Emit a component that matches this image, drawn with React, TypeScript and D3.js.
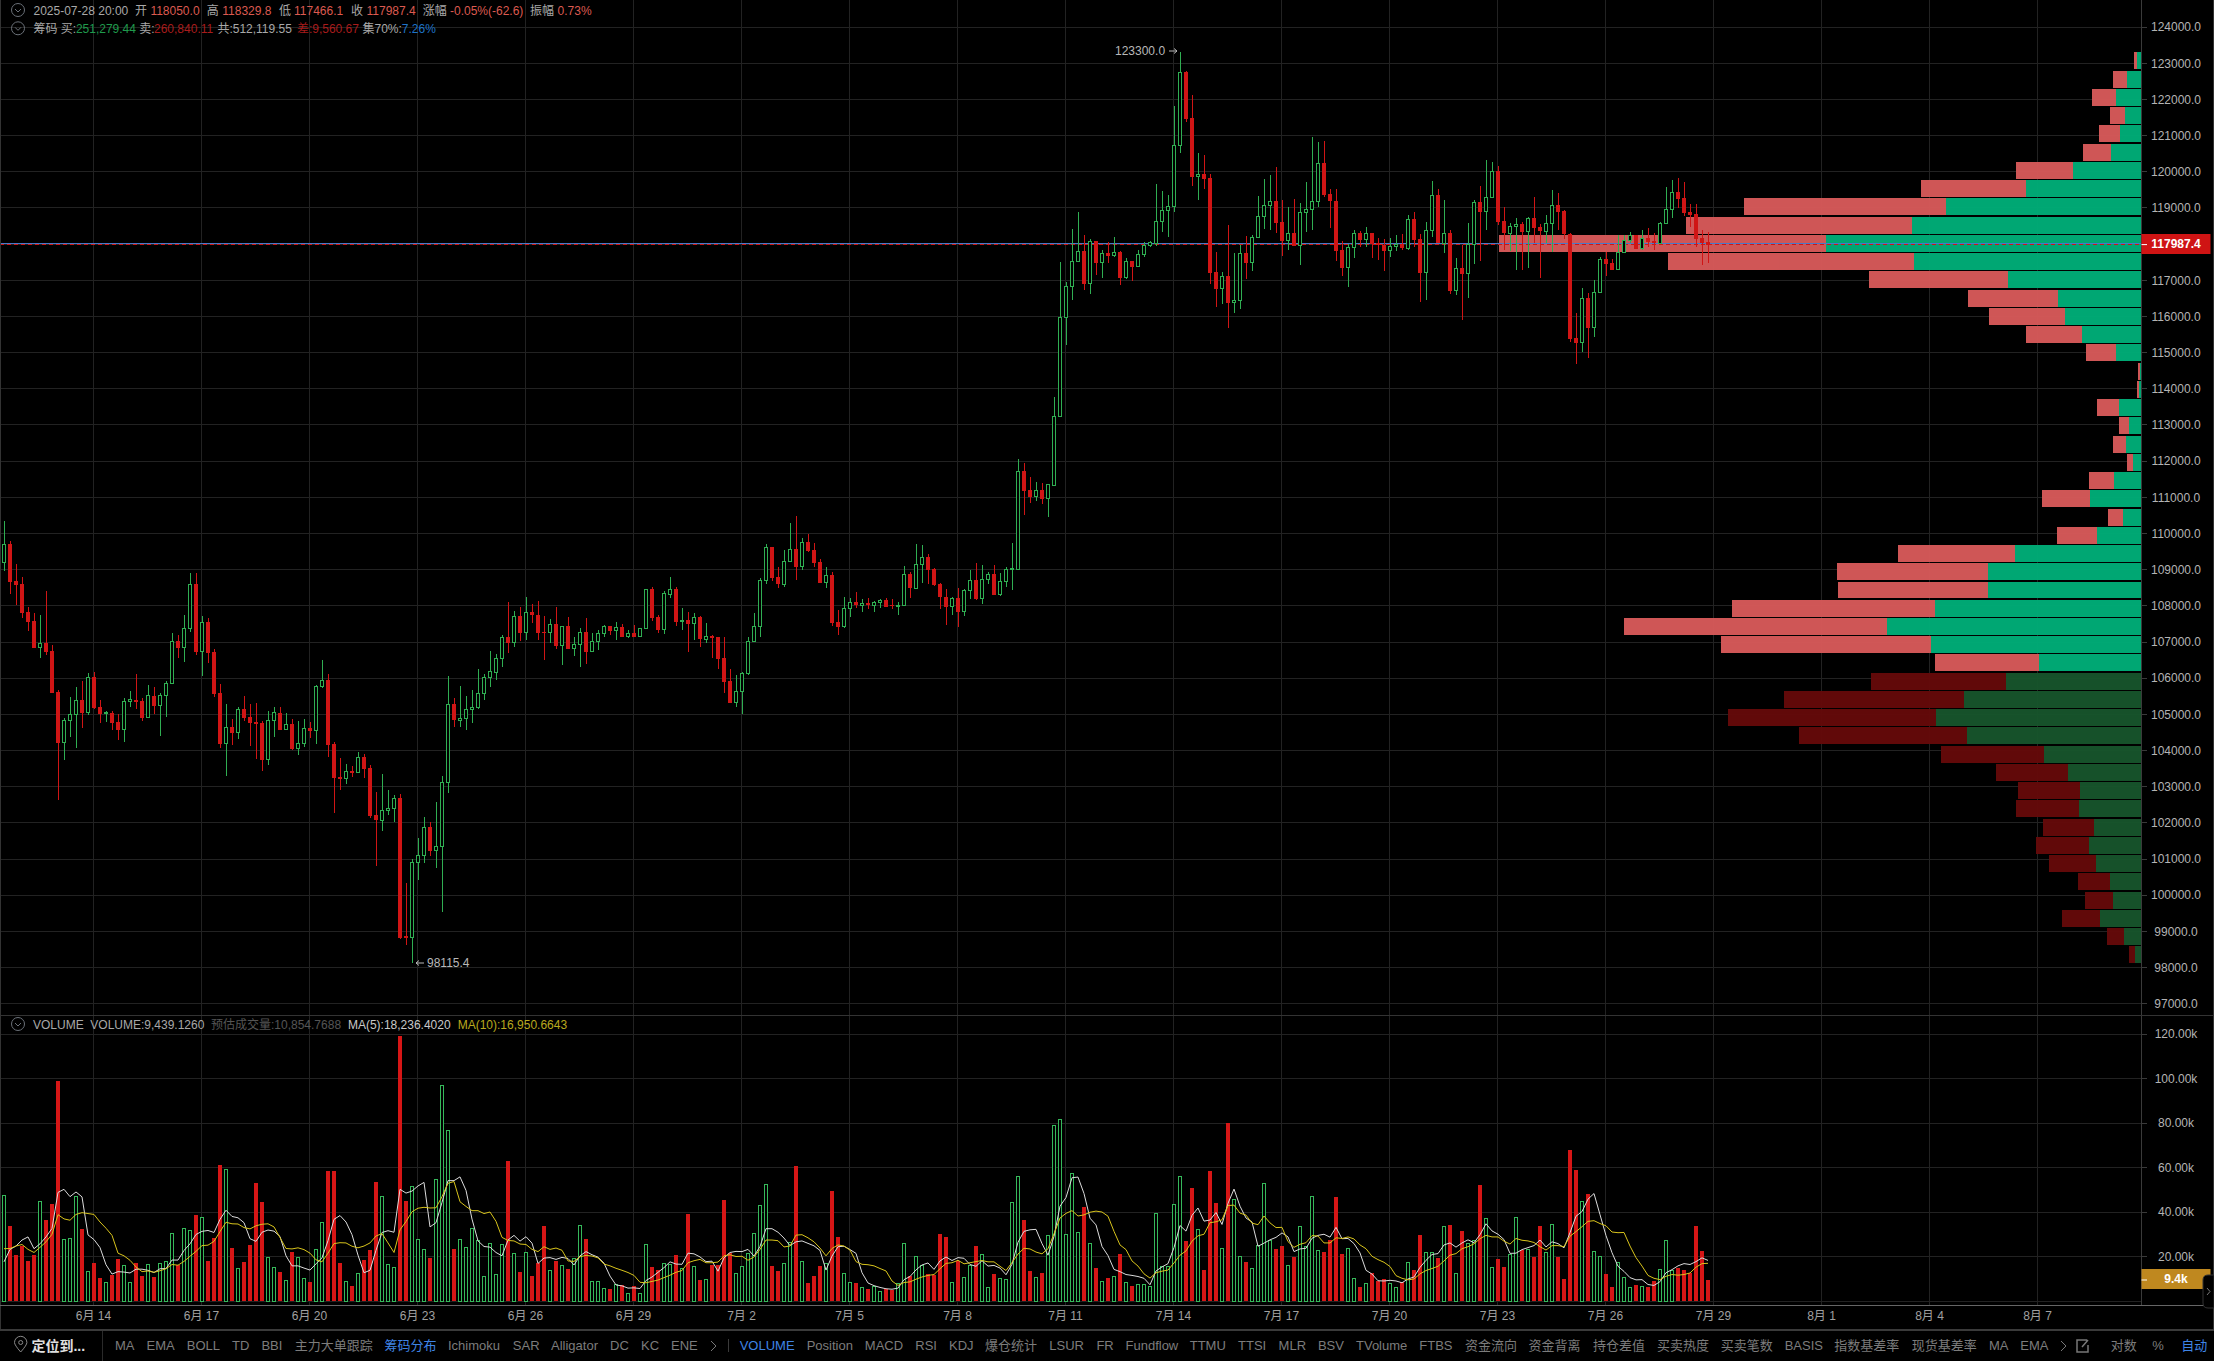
import * as d3 from "d3";

// 4h candles, 2025-06-11 12:00 .. 2025-07-28 20:00
const opens = [
  109200,109700,108680,108590,107820,107570,106840,106960,106740,105610,
  104220,104830,105000,105390,105050,106020,105190,105030,105030,104780,
  104580,105360,105410,105360,104910,105520,105240,105520,105850,107020,
  106840,107380,108590,106730,107540,106710,105580,104200,104640,104500,
  105140,104920,104780,104750,103750,104820,105050,104580,104720,104050,
  104190,104610,104560,105770,105940,104170,103260,103230,103420,103400,
  103810,103510,102210,102070,102340,102400,102680,98870,98830,100910,
  101090,101880,101230,101340,103120,105280,104840,104890,105140,105180,
  105580,106020,106160,106550,107130,106980,107710,107270,107820,107760,
  107290,107270,107490,106900,107430,106820,106930,107270,106730,107020,
  107240,107430,107320,107410,107160,107240,107150,107370,108460,107680,
  107340,108310,108460,107560,107600,107510,107680,107070,107160,107140,
  106550,105910,105320,105640,106130,107020,107430,108700,109620,108790,
  108590,109230,109560,109080,109760,109530,109200,108640,108840,107540,
  107420,107930,108100,108010,108070,108010,108090,108150,108020,107990,
  108010,108870,108480,109140,109340,109010,108590,108240,107980,108210,
  107840,108430,108710,108200,108730,108870,108300,108680,109010,109010,
  111720,111190,111020,111190,110960,111340,113240,115980,116830,117520,
  117800,116910,118080,117490,117750,117680,117770,117070,117530,117380,
  117720,117970,118020,118630,118940,119050,120730,122750,121480,119870,
  119930,119820,117220,116770,117110,116380,116450,117750,117490,118190,
  118770,119070,119180,118600,118090,118300,117970,118880,118960,119180,
  120240,119390,119180,117840,117350,117910,118300,118120,118300,118020,
  117980,117820,117930,118000,117880,118690,118130,117210,118370,119350,
  118020,118300,116710,117330,117180,117980,119160,118900,119290,120010,
  118630,118300,118480,118550,118340,118710,118470,118360,118570,119070,
  118910,118290,115400,115280,116500,115690,116670,117590,117470,117290,
  117770,118100,118240,117870,118160,118090,118020,118580,118950,119430,
  119270,118890,118830,118160,118050,
];
const closes = [
  109700,108670,108580,107810,107560,106840,106960,106730,105600,104220,
  104830,105000,105390,105050,106020,105170,105020,105050,104770,104570,
  105360,105410,105350,104910,105520,105240,105520,105860,107020,106840,
  107380,108590,106730,107540,106700,105570,104190,104640,104490,105140,
  104910,104770,104740,103750,104830,105050,104580,104720,104050,104200,
  104610,104550,105770,105940,104160,103250,103220,103420,103390,103810,
  103500,102200,102070,102340,102400,102680,98820,98820,100910,101100,
  101880,101230,101340,103120,105280,104840,104890,105140,105190,105580,
  106020,106190,106550,107130,106980,107710,107260,107820,107760,107260,
  107260,107490,106900,107430,106820,106930,107270,106730,107020,107240,
  107430,107310,107400,107150,107230,107150,107370,108460,107670,107340,
  108330,108460,107560,107600,107510,107680,107070,107160,107120,106540,
  105900,105320,105640,106130,107020,107430,108700,109620,108780,108590,
  109230,109560,109080,109760,109520,109190,108640,108840,107530,107420,
  107930,108100,108010,108070,108010,108090,108150,107980,107990,108020,
  108870,108480,109150,109340,109000,108580,108240,107980,108210,107840,
  108430,108710,108190,108730,108870,108300,108680,109010,109040,111720,
  111180,111020,111190,110960,111360,113240,115980,116830,117530,117800,
  116910,118080,117490,117750,117680,117770,117070,117530,117380,117720,
  117970,118050,118630,118940,119050,120730,122750,121470,119870,119930,
  119810,117210,116770,117110,116380,116450,117750,117490,118190,118770,
  119070,119180,118590,118090,118300,117960,118880,118960,119180,120240,
  119360,119180,117820,117350,117910,118300,118120,118300,118010,117970,
  117820,117940,118000,117880,118690,118120,117210,118380,119350,118040,
  118300,116710,117330,117180,117980,119160,118900,119290,120010,118610,
  118300,118480,118550,118340,118710,118460,118360,118570,119070,118900,
  118280,115390,115280,116500,115690,116670,117580,117450,117290,117770,
  118100,118240,117870,118160,118050,118020,118580,118960,119430,119250,
  118860,118810,118140,118040,117987.4,
];
const highs = [
  110350,109790,109170,108790,107960,107810,107760,108410,106930,105670,
  104890,105470,105760,105920,106140,106170,105390,105090,105080,105020,
  105440,105640,106110,105440,105810,105760,105580,105930,107260,107200,
  107760,108900,108910,107730,107660,106800,105830,105290,104870,105210,
  105510,105290,105300,104820,105100,105190,105190,105030,104870,104810,
  104870,104780,105810,106490,106110,104230,103800,103640,103560,103950,
  103900,103600,102840,103360,102910,102770,102800,100350,100990,101570,
  102150,102030,102590,103290,106050,105460,105780,105520,105670,106250,
  106110,106750,106670,107190,108110,107870,107980,108250,108050,108140,
  107730,107640,107980,107450,107690,107140,107380,107660,107240,107320,
  107460,107450,107540,107500,107320,107460,107380,108460,108520,107750,
  108410,108800,108520,107930,107820,107790,107720,107520,107180,107150,
  107150,106250,106080,106160,107150,107810,108760,109700,109620,109080,
  109530,110280,110490,109870,109980,109750,109290,109080,108940,107890,
  108240,108220,108370,108180,108210,108140,108200,108220,108190,108100,
  109090,108940,109700,109670,109420,109050,108620,108470,108250,108480,
  108470,108980,109190,109120,108940,109120,108910,109080,109750,112050,
  111950,111560,111420,111390,111380,113770,117520,116960,118410,118900,
  118240,118130,118100,117840,118050,118190,117800,117610,117540,117840,
  118050,118100,119670,119470,119350,121820,123300,122790,122130,120520,
  120460,119930,117770,117240,118520,117750,117980,118230,118250,119320,
  119800,119900,120120,119220,119040,119240,119130,119720,120960,120820,
  120860,119530,119530,118080,118000,118390,118350,118470,118320,118160,
  118130,118170,118240,118280,118800,118880,118280,118600,119740,119520,
  119210,118390,117610,117980,118580,119220,119620,120330,120280,120170,
  119020,118590,118710,118620,118750,119290,118560,118810,119500,119410,
  118940,118300,116110,116780,116660,117010,117650,117770,117590,118250,
  118250,118330,118240,118390,118440,118300,118620,119570,119780,119830,
  119710,119110,119110,118390,118329.8,
];
const lows = [
  108970,108340,108020,107670,107310,106840,106550,106640,105600,102620,
  103750,104370,104070,104610,104970,105140,104750,104780,104570,104300,
  104240,105210,105150,104820,104910,105010,104410,104930,105830,106550,
  106460,107270,106650,106070,106430,105470,104070,103300,104150,104330,
  104820,104120,103760,103440,103600,104370,104580,104580,104020,103880,
  104110,104350,104190,105720,103820,102260,102920,103080,103280,103400,
  103230,102140,100800,101780,102220,102030,98790,98620,98115.4,100430,
  100890,101080,100760,99540,102830,104660,104660,104580,104760,105140,
  105400,105760,105960,106300,106700,106870,107030,107050,107530,107060,
  106500,106960,106810,106360,106820,106620,106320,106380,106730,106780,
  107140,107200,107060,107150,107110,107130,107150,107370,107590,107250,
  107220,108210,107450,107330,106710,107060,106870,106980,106560,106240,
  105580,105320,105190,105010,106100,107020,107150,108610,108700,108500,
  108530,109220,108720,108980,109500,109060,108640,108480,107450,107200,
  107400,107700,107950,107830,107910,107820,107950,107980,107900,107750,
  108010,108230,108480,108620,108610,108540,107910,107480,107740,107420,
  107710,108180,108160,108060,108590,108300,108280,108530,108440,109010,
  110520,110850,110910,110820,110450,111300,113240,115210,116460,117520,
  116740,116630,117150,117070,117490,117650,116870,117030,116990,117360,
  117650,117930,117960,118340,118210,118880,120530,121370,119620,119220,
  119530,116890,116250,116340,115690,116090,116210,117050,117270,118160,
  118420,118390,118300,117680,117840,117940,117420,118330,118390,119020,
  119310,118440,117540,117130,116810,117610,117930,117920,117620,117560,
  117260,117640,117820,117840,117840,117930,116390,116460,118210,118020,
  117750,116620,116590,115890,116500,117450,117540,118390,119270,118530,
  117840,117820,117290,117290,117330,118020,117070,118020,117790,118390,
  118130,115300,114690,115030,114860,115440,116660,117130,117290,117290,
  117750,118020,117870,117840,117930,117840,118020,118560,118710,118990,
  118780,118480,117930,117410,117466.1,
];

// volume per candle, in thousands
const volumes = [
  47.4,33.6,20.6,24.7,17.9,20.6,44.7,36.3,43.5,98.7,27.7,28.1,47.1,32.3,13.3,17.0,10.3,8.4,11.5,18.8,
  16.0,8.4,17.0,11.2,16.4,10.8,16.9,17.8,30.3,16.1,32.6,31.8,38.6,37.5,17.9,28.3,61.0,59.1,23.8,14.7,
  17.5,25.1,52.9,44.4,19.6,15.1,13.0,9.3,22.0,19.6,10.2,8.5,23.2,35.3,58.3,58.3,17.0,8.8,6.7,12.4,
  18.4,22.9,53.4,46.9,16.4,15.1,119.3,44.9,51.4,27.7,23.2,19.3,54.6,96.7,76.5,23.3,27.7,24.1,32.6,27.2,
  11.1,25.9,12.0,25.4,62.8,21.4,13.0,21.8,11.2,16.9,33.6,13.8,17.9,16.0,14.4,19.1,33.9,27.7,8.8,8.8,
  5.7,5.2,7.5,7.0,3.4,6.6,3.4,25.4,15.2,13.9,16.9,16.4,20.5,14.7,39.0,15.5,9.4,9.7,16.1,16.4,
  45.3,21.4,12.4,15.5,21.4,30.3,42.9,52.3,15.7,13.5,16.9,26.3,60.5,17.8,8.1,11.2,15.7,16.9,49.3,28.7,
  12.4,8.4,8.1,6.1,5.4,6.6,4.3,5.2,4.8,7.9,25.9,11.2,20.0,16.1,12.1,11.7,30.3,28.7,8.4,18.2,
  10.6,16.0,24.7,20.9,6.1,12.1,10.2,9.7,44.3,55.9,36.6,13.5,10.6,12.6,29.5,78.8,81.5,29.9,57.3,30.8,
  42.2,25.9,14.8,8.8,10.3,11.1,21.1,8.4,6.7,7.5,7.5,6.6,39.3,15.4,15.4,43.4,55.9,26.9,50.7,32.1,
  13.9,58.3,44.0,23.6,79.8,45.7,20.0,17.5,14.7,25.0,52.8,27.4,23.3,24.7,16.0,19.7,33.5,24.7,46.9,22.7,
  22.0,27.4,46.6,21.1,23.6,10.2,6.3,7.9,12.4,8.8,9.7,7.9,6.1,8.7,17.3,13.9,29.6,21.8,21.8,19.3,
  33.5,34.1,12.4,31.4,25.9,27.2,52.0,37.1,15.1,18.8,15.2,20.9,37.5,22.9,23.3,19.7,33.6,21.8,34.4,19.7,
  9.9,67.7,58.8,44.7,48.0,22.3,20.0,12.1,6.3,17.3,10.6,6.1,7.2,6.6,6.3,9.0,14.2,27.2,13.9,14.8,
  13.9,12.4,33.6,22.4,9.44,
];
const ma5 = [
  17.6,23.2,24.7,27.4,28.8,23.5,25.7,28.8,32.6,48.8,50.2,46.9,49.0,46.8,29.7,27.6,24.0,16.3,12.1,13.2,
  13.0,12.6,14.3,14.3,13.8,12.8,14.5,14.6,18.4,18.4,22.7,25.7,29.9,31.3,31.7,30.8,36.7,40.8,38.0,37.4,
  35.2,28.0,26.8,30.9,31.9,31.4,29.0,20.3,15.8,15.8,14.8,13.9,16.7,19.4,27.1,36.7,38.4,35.5,29.8,20.6,
  12.7,13.8,22.8,30.8,31.6,30.9,50.2,48.5,49.4,51.7,53.3,33.3,35.2,44.3,54.1,54.1,55.8,49.7,36.8,27.0,
  24.5,24.2,21.8,20.3,27.4,29.5,26.9,28.9,26.0,16.9,19.3,19.5,18.7,19.6,19.1,16.2,20.3,22.2,20.8,19.7,
  17.0,11.2,7.2,6.8,5.8,5.9,5.6,9.2,10.8,12.9,15.0,17.6,16.6,16.5,21.5,21.2,19.8,17.7,17.9,13.4,
  19.4,21.8,22.3,22.2,23.2,20.2,24.5,32.5,32.5,30.9,28.3,24.9,26.6,27.0,25.9,24.8,22.7,13.9,20.2,24.4,
  24.6,23.1,21.4,12.7,8.1,6.9,6.1,5.5,5.3,5.8,9.6,11.0,14.0,16.2,17.1,14.2,18.0,19.8,18.2,19.5,
  19.2,16.4,15.6,18.1,15.7,16.0,14.8,11.8,16.5,26.4,31.3,32.0,32.2,25.8,20.6,29.0,42.6,46.5,55.4,55.7,
  48.3,37.2,34.2,24.5,20.4,14.2,13.2,11.9,11.5,11.0,10.2,7.3,13.5,15.3,16.8,24.0,33.9,31.4,38.5,41.8,
  35.9,36.4,39.8,34.4,43.9,50.3,42.6,37.3,35.5,24.6,26.0,27.5,28.6,30.6,28.8,22.2,23.4,23.7,28.2,29.5,
  30.0,28.7,33.1,28.0,28.1,25.8,21.6,13.8,12.1,9.1,9.0,9.3,9.0,8.2,9.9,10.8,15.1,18.3,20.9,21.3,
  25.2,26.1,24.2,26.1,27.5,26.2,29.8,34.7,31.5,30.0,27.6,21.4,21.5,23.1,24.0,24.9,27.4,24.3,26.6,25.8,
  23.9,30.7,38.1,40.2,45.8,48.3,38.8,29.4,21.7,15.6,13.3,10.5,9.5,9.6,7.4,7.0,8.7,12.7,14.1,15.8,
  16.8,16.4,17.7,19.4,18.24,
];
const ma10 = [
  23.5,23.6,24.7,25.4,23.2,21.8,24.1,26.6,30.0,38.8,36.9,36.3,38.9,39.7,39.3,38.9,35.5,32.7,29.5,21.5,
  20.3,18.3,15.3,13.2,13.5,12.9,13.6,14.5,16.4,16.1,17.8,20.1,22.3,24.9,25.1,26.8,31.2,35.4,34.7,34.6,
  33.0,32.4,33.8,34.5,34.7,33.3,28.5,23.6,23.4,23.9,23.1,21.5,18.5,17.6,21.5,25.8,26.2,26.1,24.6,23.9,
  24.7,26.1,29.2,30.3,26.1,21.8,32.0,35.7,40.1,41.7,42.1,41.8,41.9,46.9,52.9,53.7,44.6,42.5,40.6,40.6,
  39.3,40.0,35.8,28.6,27.2,27.0,25.6,25.4,23.2,22.2,24.4,23.2,23.8,22.8,18.0,17.8,19.9,20.5,20.2,19.4,
  16.6,15.8,14.7,13.8,12.8,11.5,8.4,8.2,8.8,9.4,10.5,11.6,12.9,13.7,17.2,18.1,18.7,17.2,17.2,17.5,
  20.3,20.8,20.0,20.1,18.3,19.8,23.2,27.4,27.4,27.1,24.3,24.7,29.6,29.8,28.4,26.6,23.8,20.3,23.6,25.2,
  24.7,22.9,17.7,16.5,16.3,15.8,14.6,13.5,9.0,7.0,8.3,8.6,9.8,10.8,11.5,11.9,14.5,16.9,17.2,18.3,
  16.7,17.2,17.7,18.2,17.6,17.6,15.6,13.7,17.3,21.1,23.7,23.4,22.0,21.2,23.5,30.2,37.3,39.4,40.6,38.2,
  38.7,39.9,40.4,40.0,38.1,31.3,25.2,23.1,18.0,15.7,12.2,10.3,12.7,13.4,13.9,17.1,20.6,22.5,26.9,29.3,
  30.0,35.2,35.6,36.5,42.9,43.1,39.5,38.6,35.0,34.3,38.2,35.1,33.0,33.1,26.7,24.1,25.5,26.2,29.4,29.2,
  26.1,26.1,28.4,28.1,28.8,27.9,25.2,23.5,20.1,18.6,17.4,15.5,11.4,10.2,9.5,9.9,12.2,13.7,14.6,15.6,
  18.0,20.6,21.3,23.5,24.4,25.7,28.0,29.5,28.8,28.8,26.9,25.6,28.1,27.3,27.0,26.3,24.4,22.9,24.9,24.9,
  24.4,29.1,31.2,33.4,35.8,36.1,34.8,33.8,31.0,30.7,30.8,24.7,19.5,15.7,11.5,10.2,9.6,11.1,11.9,11.6,
  11.9,12.6,15.2,16.8,16.95,
];

// price profile rows, top to bottom: 123300 .. 98115.4
const profileBuy = [
  251,866,1505,958,1277,1778,3967,6749,11354,13361,18377,13224,7752,4879,4423,3466,1459,68,160,1322,
  730,912,502,1596,3010,1094,2599,7387,8938,8938,12038,14820,12266,5974,7889,10328,11970,10169,5700,4286,
  3557,3648,2736,3055,2645,1847,1664,2417,1026,388,
];
const profileSell = [
  182,798,1391,889,1208,1642,3352,6088,11788,13156,19038,14341,8117,5221,4469,3260,1778,137,114,1277,
  593,752,342,1459,2782,866,2326,6794,8801,8732,11810,15322,12221,6042,7866,10488,12107,9781,5974,4195,
  3648,3671,3010,3101,2736,1847,1619,2212,980,342,
];
const brightRows = 34; // rows inside the 70% range

const priceTicks = d3.range(97000, 124001, 1000);
const volumeTicks = [20, 40, 60, 80, 100, 120];
const dateLabels = [
  "6月 14","6月 17","6月 20","6月 23","6月 26","6月 29","7月 2","7月 5","7月 8","7月 11",
  "7月 14","7月 17","7月 20","7月 23","7月 26","7月 29","8月 1","8月 4","8月 7",
];

const WIDTH = 2214;
const HEIGHT = 1361;
const AXIS_X = 2141.5;
const FONT = '"Liberation Sans", "Noto Sans CJK SC", sans-serif';
const RED = "#d01515";
const GREEN = "#2fae52";
const GRID = "#222222";
const AXIS_TEXT = "#b4b4b4";
const LAST_CLOSE = closes[closes.length - 1];
const LAST_VOLUME = volumes[volumes.length - 1];

const x = d3.scaleLinear().domain([0, 284]).range([4, 1708]);
const dateX = d3.scaleLinear().domain([0, dateLabels.length - 1]).range([93.5, 2037.5]);
const y = d3.scaleLinear().domain([123000, 97000]).range([63.3, 1003.7]);
const vy = d3.scaleLinear().domain([0, 120]).range([1301, 1034]);
const rowY = d3
  .scaleBand<number>()
  .domain(d3.range(profileBuy.length))
  .range([y(123300), y(98115.4)])
  .paddingInner(0.07);
const profileW = d3.scaleLinear().domain([0, 30000]).range([0, 515.5]);

const maLine = d3
  .line<number>()
  .x((_, i) => x(i))
  .y((d) => vy(d));

const headerRow1: [number, string, string][] = [
  [33.5, "2025-07-28 20:00", "#a8a8a8"],
  [135, "开", "#a8a8a8"],
  [150.4, "118050.0", "#dc5a50"],
  [206.7, "高", "#a8a8a8"],
  [222.3, "118329.8", "#dc5a50"],
  [279, "低", "#a8a8a8"],
  [294, "117466.1", "#dc5a50"],
  [351, "收", "#a8a8a8"],
  [366.5, "117987.4", "#dc5a50"],
  [422.8, "涨幅", "#a8a8a8"],
  [450, "-0.05%(-62.6)", "#dc5a50"],
  [530, "振幅", "#a8a8a8"],
  [557.6, "0.73%", "#dc5a50"],
];
const headerRow2: [number, string, string][] = [
  [33.5, "筹码", "#a8a8a8"],
  [60.7, "买:", "#a8a8a8"],
  [75.9, "251,279.44", "#1f9a4c"],
  [139.3, "卖:", "#a8a8a8"],
  [154, "260,840.11", "#a81c1c"],
  [217.4, "共:512,119.55", "#a8a8a8"],
  [296.9, "差:9,560.67", "#a81c1c"],
  [362.5, "集70%:", "#a8a8a8"],
  [401.8, "7.26%", "#1f73c8"],
];
const volumeHeader: [number, string, string][] = [
  [33, "VOLUME", "#a8a8a8"],
  [90.3, "VOLUME:9,439.1260", "#a8a8a8"],
  [211, "预估成交量:10,854.7688", "#555555"],
  [347.9, "MA(5):18,236.4020", "#c8c8c8"],
  [457.7, "MA(10):16,950.6643", "#b9a91e"],
];
const toolbar: [number, string, boolean?][] = [
  [115, "MA"],[146.6, "EMA"],[186.8, "BOLL"],[232, "TD"],[261.4, "BBI"],[294.7, "主力大单跟踪"],
  [384.6, "筹码分布", true],[448, "Ichimoku"],[512.8, "SAR"],[551, "Alligator"],[610, "DC"],[641, "KC"],
  [671, "ENE"],[739.7, "VOLUME", true],[806.7, "Position"],[864.8, "MACD"],[915.3, "RSI"],[949, "KDJ"],
  [985, "爆仓统计"],[1049.3, "LSUR"],[1096.4, "FR"],[1125.5, "Fundflow"],[1189.7, "TTMU"],[1238, "TTSI"],
  [1278.6, "MLR"],[1317.9, "BSV"],[1356, "TVolume"],[1419.3, "FTBS"],[1465, "资金流向"],[1528.6, "资金背离"],
  [1592.9, "持仓差值"],[1657, "买卖热度"],[1720.7, "买卖笔数"],[1784.7, "BASIS"],[1834.3, "指数基差率"],
  [1911.7, "现货基差率"],[1989, "MA"],[2020.3, "EMA"],[2110.7, "对数"],[2152.3, "%"],[2181.3, "自动", true],
];

function ChevronCircle({ cx, cy }: { cx: number; cy: number }) {
  return (
    <g fill="none" stroke="#6a7078">
      <circle cx={cx} cy={cy} r={6.5} />
      <path d={`M${cx - 3} ${cy - 1}L${cx} ${cy + 2}L${cx + 3} ${cy - 1}`} />
    </g>
  );
}

function Row({ items, cy, size = 12 }: { items: [number, string, string][]; cy: number; size?: number }) {
  return (
    <>
      {items.map(([tx, label, color]) => (
        <text key={tx} x={tx} y={cy} dy="0.38em" fontSize={size} fill={color}>
          {label}
        </text>
      ))}
    </>
  );
}

export default function App() {
  const lastY = Math.floor(y(LAST_CLOSE));
  return (
    <svg
      width={WIDTH}
      height={HEIGHT}
      viewBox={`0 0 ${WIDTH} ${HEIGHT}`}
      style={{ position: "absolute", left: 0, top: 0, display: "block", background: "#000" }}
      fontFamily={FONT}
    >
      <rect width={WIDTH} height={HEIGHT} fill="#000" />

      {/* grid */}
      <g stroke={GRID} shapeRendering="crispEdges">
        {dateLabels.map((d, i) => (
          <line key={d} x1={dateX(i)} x2={dateX(i)} y1={0} y2={1305} />
        ))}
        {priceTicks.map((t) => (
          <line key={t} x1={0} x2={AXIS_X} y1={y(t)} y2={y(t)} />
        ))}
        {volumeTicks.map((t) => (
          <line key={t} x1={0} x2={AXIS_X} y1={vy(t)} y2={vy(t)} />
        ))}
        <line x1={0} x2={AXIS_X} y1={vy(0)} y2={vy(0)} />
      </g>

      {/* price profile */}
      <g shapeRendering="crispEdges" opacity={0.96}>
        {profileBuy.map((buy, i) => {
          const total = buy + profileSell[i];
          const bright = i < brightRows;
          return (
            <g key={i}>
              <rect
                x={AXIS_X - profileW(total)}
                y={rowY(i)}
                width={profileW(profileSell[i])}
                height={rowY.bandwidth()}
                fill={bright ? "#d85a5a" : "#650a0a"}
              />
              <rect
                x={AXIS_X - profileW(buy)}
                y={rowY(i)}
                width={profileW(buy)}
                height={rowY.bandwidth()}
                fill={bright ? "#00ae78" : "#17552c"}
              />
            </g>
          );
        })}
      </g>

      {/* current price lines */}
      <g shapeRendering="crispEdges">
        <line x1={0} x2={AXIS_X} y1={lastY - 0.5} y2={lastY - 0.5} stroke="#4a78c8" />
        <line x1={0} x2={AXIS_X} y1={lastY + 0.5} y2={lastY + 0.5} stroke="#d01515" strokeDasharray="4 3" />
      </g>

      {/* candles */}
      <g shapeRendering="crispEdges">
        {opens.map((o, i) => {
          const c = closes[i];
          const up = c > o;
          const top = y(Math.max(o, c));
          const h = Math.max(1, y(Math.min(o, c)) - top);
          const cx = x(i);
          return (
            <g key={i}>
              <rect x={cx - 0.5} y={y(highs[i])} width={1} height={y(lows[i]) - y(highs[i])} fill={up ? GREEN : RED} />
              {up ? (
                <rect x={cx - 2} y={top} width={3.5} height={h} fill="#000" stroke={GREEN} />
              ) : (
                <rect x={cx - 2} y={top} width={4} height={h} fill={RED} />
              )}
            </g>
          );
        })}
      </g>

      {/* extreme price labels */}
      <text x={1115} y={50.7} dy="0.35em" fontSize={12} fill="#b8b8b8">
        123300.0
      </text>
      <path d="M1169 51H1177M1174 48.5L1177 51L1174 53.5" fill="none" stroke="#b8b8b8" />
      <text x={427} y={962.7} dy="0.35em" fontSize={12} fill="#b8b8b8">
        98115.4
      </text>
      <path d="M424 963H416M419 960.5L416 963L419 965.5" fill="none" stroke="#b8b8b8" />

      {/* volume */}
      <g shapeRendering="crispEdges">
        {volumes.map((v, i) => {
          const up = closes[i] > opens[i];
          const top = vy(v);
          return up ? (
            <rect key={i} x={x(i) - 2} y={top} width={3.5} height={vy(0) - top} fill="#000" stroke="#35b85a" />
          ) : (
            <rect key={i} x={x(i) - 2} y={top} width={4} height={vy(0) - top} fill="#d61616" />
          );
        })}
      </g>
      <path d={maLine(ma5) ?? ""} fill="none" stroke="#dcdcdc" strokeWidth={1} />
      <path d={maLine(ma10) ?? ""} fill="none" stroke="#d8c41c" strokeWidth={1} />

      {/* frame */}
      <g shapeRendering="crispEdges">
        <line x1={0.5} x2={0.5} y1={0} y2={1329} stroke="#333" />
        <line x1={AXIS_X} x2={AXIS_X} y1={0} y2={1305} stroke="#3a3a3a" />
        <line x1={0} x2={WIDTH} y1={1015.5} y2={1015.5} stroke="#333" />
        <line x1={0} x2={WIDTH} y1={1305} y2={1305} stroke="#666" />
        <line x1={0} x2={WIDTH} y1={1329.5} y2={1329.5} stroke="#3a3a3a" strokeWidth={2} />
        <line x1={2213.5} x2={2213.5} y1={0} y2={1329} stroke="#333" />
      </g>

      {/* price axis */}
      {priceTicks.map((t) => (
        <g key={t}>
          <line x1={AXIS_X} x2={AXIS_X + 5.5} y1={y(t)} y2={y(t)} stroke="#3a3a3a" shapeRendering="crispEdges" />
          <text x={2176} y={y(t)} dy="0.35em" textAnchor="middle" fontSize={12} fill={AXIS_TEXT}>
            {t.toFixed(1)}
          </text>
        </g>
      ))}
      <rect x={AXIS_X} y={234} width={69} height={20} fill="#cf1414" />
      <line x1={AXIS_X} x2={AXIS_X + 5.5} y1={y(LAST_CLOSE)} y2={y(LAST_CLOSE)} stroke="#fff" />
      <text x={2176} y={244} dy="0.35em" textAnchor="middle" fontSize={12} fontWeight="bold" fill="#fff">
        {LAST_CLOSE.toFixed(1)}
      </text>

      {/* volume axis */}
      {volumeTicks.map((t) => (
        <g key={t}>
          <line x1={AXIS_X} x2={AXIS_X + 5.5} y1={vy(t)} y2={vy(t)} stroke="#3a3a3a" shapeRendering="crispEdges" />
          <text x={2176} y={vy(t)} dy="0.35em" textAnchor="middle" fontSize={12} fill={AXIS_TEXT}>
            {t.toFixed(2)}k
          </text>
        </g>
      ))}
      <rect x={AXIS_X} y={1269} width={69} height={20} fill="#bf881f" />
      <line x1={AXIS_X} x2={AXIS_X + 5.5} y1={vy(LAST_VOLUME)} y2={vy(LAST_VOLUME)} stroke="#fff" />
      <text x={2176} y={1279} dy="0.35em" textAnchor="middle" fontSize={12} fontWeight="bold" fill="#fff">
        {LAST_VOLUME.toFixed(1)}k
      </text>
      <path d="M2214 1275H2208Q2203 1275 2203 1280V1303Q2203 1308 2208 1308H2214Z" fill="#000" stroke="#333" />
      <path d="M2207 1288L2210 1291.5L2207 1295" fill="none" stroke="#777" />

      {/* date axis */}
      {dateLabels.map((d, i) => (
        <text key={d} x={dateX(i)} y={1316} dy="0.35em" textAnchor="middle" fontSize={12} fill="#a0a0a0">
          {d}
        </text>
      ))}

      {/* headers */}
      <ChevronCircle cx={18} cy={10} />
      <Row items={headerRow1} cy={10.5} />
      <ChevronCircle cx={18} cy={28.3} />
      <Row items={headerRow2} cy={28.5} />
      <ChevronCircle cx={18} cy={1024} />
      <Row items={volumeHeader} cy={1024} />

      {/* toolbar */}
      <g fill="none" stroke="#888">
        <path d="M20.7 1352Q14.5 1345 14.5 1342.5A6.2 6.2 0 0 1 26.9 1342.5Q26.9 1345 20.7 1352Z" />
        <circle cx={20.7} cy={1342.5} r={2} />
      </g>
      <text x={31.4} y={1346} dy="0.35em" fontSize={14} fontWeight="bold" fill="#e0e0e0">
        定位到...
      </text>
      <line x1={102.5} x2={102.5} y1={1331} y2={1361} stroke="#2a2a2a" />
      <line x1={728.5} x2={728.5} y1={1339} y2={1352} stroke="#3a3a3a" />
      <path d="M711 1341L716 1346L711 1351" fill="none" stroke="#777" />
      <path d="M2061 1341L2066 1346L2061 1351" fill="none" stroke="#777" />
      <path d="M2087 1340H2077V1352H2088V1345M2082 1347L2088 1340" fill="none" stroke="#777" strokeWidth={1.5} />
      {toolbar.map(([tx, label, active]) => (
        <text key={tx} x={tx} y={1345.7} dy="0.35em" fontSize={13} fill={active ? "#3f84e5" : "#7c7c7c"}>
          {label}
        </text>
      ))}
    </svg>
  );
}
